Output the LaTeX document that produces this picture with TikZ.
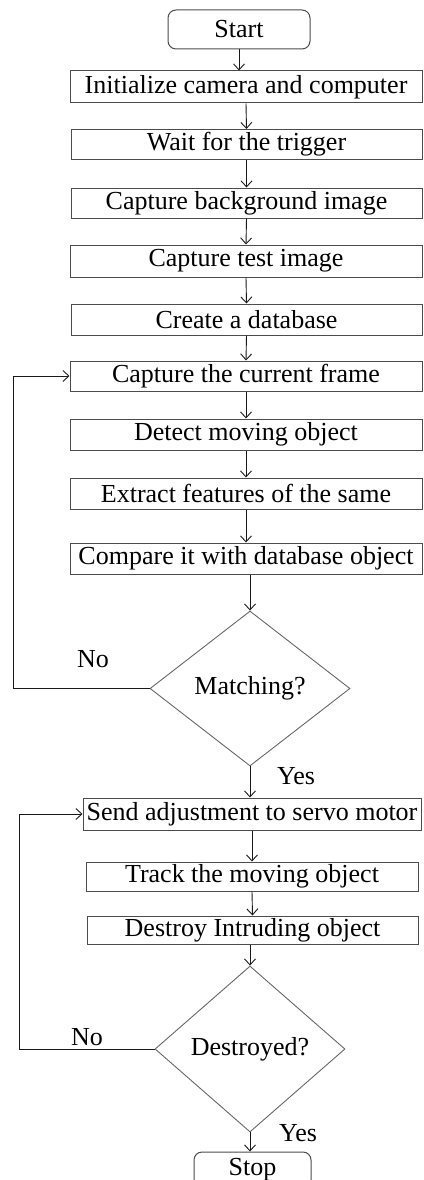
\documentclass[tikz,border=0pt]{standalone}
\usepackage{fontspec}
\setmainfont{Liberation Serif}
\usetikzlibrary{arrows.meta,shapes.geometric,positioning}

\begin{document}
\begin{tikzpicture}[x=1pt, y=-1pt,
        procbox/.style={draw=black!70, line width=1pt, rectangle, inner sep=0pt, minimum height=30pt},
        termbox/.style={draw=black!70, line width=1pt, rectangle, rounded corners=8pt, inner sep=0pt},
        decbox/.style={draw=black!60, line width=0.9pt, diamond, inner sep=0pt},
        flow/.style={black!90, line width=0.9pt, -{Straight Barb[length=6pt,width=11pt]}},
        every node/.style={font=\fontsize{26}{30}\selectfont}]
        \clip (0, 0) rectangle (423, 1180);
        % first part: set up
        \node[termbox, minimum width=142pt, minimum height=39pt] (start) at (239, 29.5) {Start};
        \node[procbox, minimum width=352pt, minimum height=32pt] (init) at (246, 87) {Initialize camera and computer};
        \node[procbox, minimum width=351pt] (wait) at (246.5, 144.5) {Wait for the trigger};
        \node[procbox, minimum width=351pt] (bgimg) at (246.5, 203) {Capture background image};
        \node[procbox, minimum width=352pt, minimum height=32pt] (testimg) at (246, 261) {Capture test image};
        \node[procbox, minimum width=351pt, minimum height=31pt] (dbase) at (246.5, 319.5) {Create a database};
        % detection loop
        \node[procbox, minimum width=352pt] (frame) at (246, 376) {Capture the current frame};
        \node[procbox, minimum width=352pt, minimum height=31pt] (detect) at (246, 434.5) {Detect moving object};
        \node[procbox, minimum width=352pt, minimum height=31pt] (extract) at (246, 493.5) {Extract features of the same};
        \node[procbox, minimum width=352pt, minimum height=31pt] (compare) at (246, 558.5) {Compare it with database object};
        \node[decbox, minimum width=200pt, minimum height=155pt] (match) at (250, 688.5) {Matching?};
        \node (nomatch) at (93, 659) {No};
        \node (yesmatch) at (296, 776) {Yes};
        % tracking loop
        \node[procbox, minimum width=338pt, minimum height=32pt] (servo) at (252, 814) {Send adjustment to servo motor};
        \node[procbox, minimum width=332pt, minimum height=29pt] (track) at (252, 876.5) {Track the moving object};
        \node[procbox, minimum width=331pt, minimum height=28pt] (destroy) at (252.5, 930) {Destroy Intruding object};
        \node[decbox, minimum width=190pt, minimum height=166pt] (destroyed) at (250, 1049) {Destroyed?};
        \node (nodestr) at (87, 1037) {No};
        \node (yesdestr) at (298, 1133) {Yes};
        \node[termbox, minimum width=117pt, minimum height=36pt] (stop) at (252.5, 1170) {Stop};

        \draw[flow] (start.south) -- (start.south |- init.north);
        \draw[flow] (init.south) -- (wait.north);
        \draw[flow] (wait.south) -- (bgimg.north);
        \draw[flow] (bgimg.south) -- (testimg.north);
        \draw[flow] (testimg.south) -- (dbase.north);
        \draw[flow] (dbase.south) -- (frame.north);
        \draw[flow] (frame.south) -- (detect.north);
        \draw[flow] (detect.south) -- (extract.north);
        \draw[flow] (extract.south) -- (compare.north);
        \draw[flow] (match.north |- compare.south) -- (match.north);
        \draw[flow] (match.west) -- (13, 688.5) |- (frame.west);
        \draw[flow] (match.south) -- (match.south |- servo.north);
        \draw[flow] (servo.south) -- (track.north);
        \draw[flow] (track.south) -- (destroy.north);
        \draw[flow] (destroyed.north |- destroy.south) -- (destroyed.north);
        \draw[flow] (destroyed.west) -- (19, 1049) |- (servo.west);
        \draw[flow] (destroyed.south) -- (destroyed.south |- stop.north);
\end{tikzpicture}
\end{document}
